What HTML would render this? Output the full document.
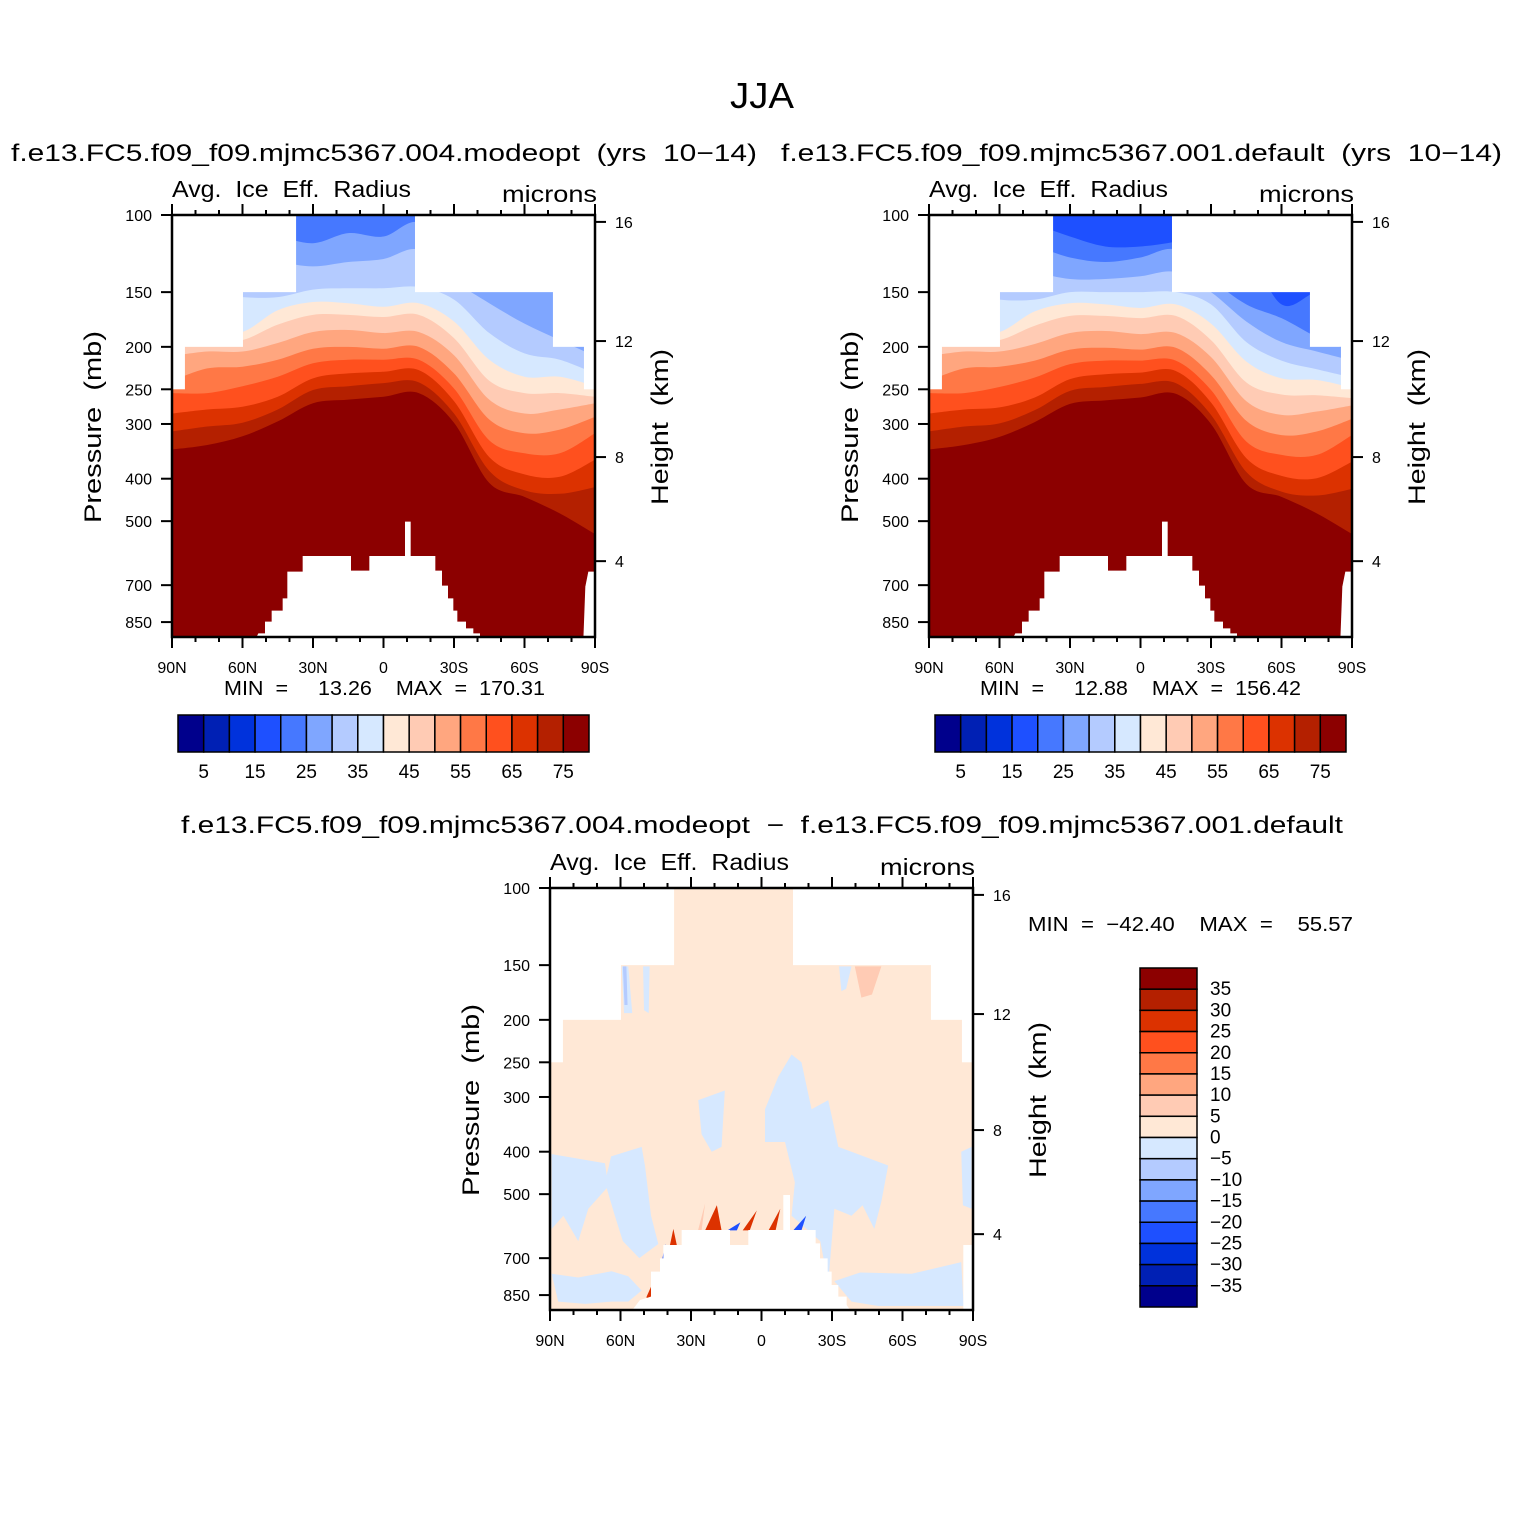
<!DOCTYPE html>
<html><head><meta charset="utf-8"><style>
html,body{margin:0;padding:0;background:#fff}
svg{display:block}
text{font-family:"Liberation Sans",sans-serif;fill:#000;white-space:pre}
</style></head><body>
<svg id="fig" width="1524" height="1524" viewBox="0 0 1524 1524" xmlns="http://www.w3.org/2000/svg">
<rect width="1524" height="1524" fill="#fff"/>
<text x="730" y="108" font-size="36" textLength="64" lengthAdjust="spacingAndGlyphs">JJA</text>
<text x="11" y="161" font-size="24" textLength="746" lengthAdjust="spacingAndGlyphs">f.e13.FC5.f09_f09.mjmc5367.004.modeopt  (yrs  10−14)</text>
<text x="781" y="161" font-size="24" textLength="721" lengthAdjust="spacingAndGlyphs">f.e13.FC5.f09_f09.mjmc5367.001.default  (yrs  10−14)</text>
<text x="181" y="833" font-size="24" textLength="1162" lengthAdjust="spacingAndGlyphs">f.e13.FC5.f09_f09.mjmc5367.004.modeopt  −  f.e13.FC5.f09_f09.mjmc5367.001.default</text>
</svg>
<script>
const palette = ["#00008c","#0020b4","#0032dc","#1e50ff","#4678ff","#7fa6ff","#b4cbff","#d6e8ff","#ffe8d6","#ffcbb4","#ffa67f","#ff7846","#ff501e","#dc3200","#b42000","#8c0000"];
const lats = [90,75,60,45,30,15,0,-15,-30,-45,-60,-75,-90];
const levels = [20,25,30,35,40,45,50,55,60,65,70,75];
// panel 1 boundary pressures (hPa) per level
const p1L20 = [98,98,98,98,98,98,98,98,98,98,98,98,98];
const p1L25 = [110,110,110,112,116,110,112,104,127,135,145,150,170];
const p1L30 = [125,125,126,128,131,128,126,120,141,159,177,193,210];
const p1L35 = [150,150,154,154,148,147,147,146,156,186,207,214,230];
const p1L40 = [180,186,185,165,158,159,162,159,175,214,234,234,246];
const p1L45 = [195,195,193,178,169,169,171,169,191,239,255,255,260];
const p1L50 = [210,205,205,196,185,183,186,185,209,264,284,278,269];
const p1L55 = [239,224,222,214,202,200,202,200,230,293,315,309,289];
const p1L60 = [255,255,246,234,218,214,214,214,249,327,350,350,315];
const p1L65 = [284,278,274,260,236,230,228,226,266,357,391,396,362];
const p1L70 = [312,304,298,278,251,246,242,241,284,384,425,433,418];
const p1L75 = [343,335,320,296,269,264,260,255,298,409,440,480,535];
// panel 2
const p2L20 = [100,100,100,105,112,118,118,115,110,120,160,150,150];
const p2L25 = [115,115,115,118,125,128,125,120,140,160,172,190,205];
const p2L30 = [128,128,130,135,140,140,138,135,150,175,195,205,215];
const p2L35 = [150,150,156,156,150,150,150,150,160,195,215,225,235];
const p2L40 = [180,186,185,166,159,160,163,160,177,216,236,238,248];
const p2L45 = [195,195,193,179,170,170,172,170,193,241,257,258,262];
const p2L50 = [210,205,205,197,186,184,187,186,211,266,286,281,272];
const p2L55 = [239,224,222,215,203,201,203,201,232,295,318,312,292];
const p2L60 = [255,255,247,235,219,215,215,215,251,329,353,353,318];
const p2L65 = [284,278,275,261,237,231,229,227,268,359,394,399,366];
const p2L70 = [312,304,299,279,252,247,243,242,286,386,428,437,422];
const p2L75 = [343,335,321,297,270,265,261,256,300,411,440,480,535];
// difference panel patches: level index, lats, pressures
const diffPatchColor = [7,7,7,7,7,7,7,7,6,7,7,9,9,13,13,13,13,3,3,3,13];
const diffPatchLat = [
 [89.3,66.6,65.2,73.7,78,84.3,89.3],
 [64,51,49.6,47,43.9,52,59,62.4,66.6],
 [89.3,78,63.8,56.7,51,56.7,63.8,75,86.5],
 [26.9,15.6,17,21.2,25.5],
 [-1.5,-7.1,-12.8,-17,-21.3,-28.4,-32.7,-38.3,-53.9,-51,-48,-43,-38.3,-31,-28.4,-25,-12.8,-14.2,-10,-1.5],
 [-31,-42,-63.9,-85,-86,-71,-49.7,-38.3],
 [-85,-89.4,-89.4,-85.7],
 [59.5,56.7,55,58.5],
 [59,57.5,57,58.3],
 [50.4,47.6,48,50],
 [-33,-38.3,-36,-34],
 [-39.7,-51,-47,-42.5],
 [27,24,25.5],
 [24,19,17,22],
 [-3,-8,-6],
 [39,37.5,36,38],
 [8,2,5],
 [14.5,9,10.5],
 [-13.5,-19,-17],
 [43,41,40,43],
 [49,45.5,47.5]
];
const diffPatchP = [
 [405,425,480,540,640,560,600],
 [410,390,430,560,650,700,640,560,470],
 [760,775,750,770,830,880,880,890,880],
 [305,290,390,400,365],
 [320,270,240,250,320,305,390,400,430,520,600,530,560,540,800,640,560,470,380,380],
 [790,755,760,715,900,900,900,880],
 [400,390,540,530],
 [151,151,193,193],
 [151,151,185,185],
 [151,151,193,190],
 [151,151,170,172],
 [151,151,175,178],
 [605,525,605],
 [605,530,605,605],
 [605,540,605],
 [655,600,655,655],
 [605,545,605],
 [605,580,605],
 [605,560,605],
 [740,650,700,760],
 [860,780,880]
];
const presTicks = [100,150,200,250,300,400,500,700,850];
const kmTickP = [103.7,194,357,617];
const kmTickLabels = ["16","12","8","4"];
const latTicks = [90,60,30,0,-30,-60,-90];
const latTickLabels = ["90N","60N","30N","0","30S","60S","90S"];
const cbLabels1 = ["5","15","25","35","45","55","65","75"];
const diffCbLabels = ["35","30","25","20","15","10","5","0","−5","−10","−15","−20","−25","−30","−35"];

const svg = document.getElementById('fig');
const NS = "http://www.w3.org/2000/svg";
const W = 423, H = 422, DEC = 438;
function mk(tag, attrs, parent){const e=document.createElementNS(NS,tag);for(const k in attrs)e.setAttribute(k,attrs[k]);(parent||svg).appendChild(e);return e;}
function xs(ox,lat){return ox+(90-lat)/180*W;}
function ys(oy,p){return oy+(Math.log10(p)-2)*DEC;}
function smoothPath(pts){
  let d="M"+pts[0][0]+","+pts[0][1];
  for(let i=0;i<pts.length-1;i++){
    const p0=pts[Math.max(0,i-1)],p1=pts[i],p2=pts[i+1],p3=pts[Math.min(pts.length-1,i+2)];
    const c1=[p1[0]+(p2[0]-p0[0])/6,p1[1]+(p2[1]-p0[1])/6];
    const c2=[p2[0]-(p3[0]-p1[0])/6,p2[1]-(p3[1]-p1[1])/6];
    d+=" C"+c1[0]+","+c1[1]+" "+c2[0]+","+c2[1]+" "+p2[0]+","+p2[1];
  }
  return d;
}
function topMask(g,ox,oy){
  const spans=[[100,150,37.2,-13.4],[150,200,59.8,-72.1],[200,250,84.5,-85.3]];
  spans.forEach(s=>{
    const y0=ys(oy,s[0])-1,y1=ys(oy,s[1]);
    let r=mk('rect',{x:ox,y:y0,width:xs(ox,s[2])-ox,height:y1-y0,fill:'#fff'},g);
    
    
    r=mk('rect',{x:xs(ox,s[3]),y:y0,width:ox+W-xs(ox,s[3]),height:y1-y0,fill:'#fff'},g);
    
    
  });
}
function polyMask(g,pts,fx,fy,ox,oy){
  const s=pts.map(p=>(ox+p[0]/3+fx)+","+(oy+p[1]/3+fy)).join(" ");
  const e=mk('polygon',{points:s,fill:'#fff'},g);
  
  
}
const mask1=[[285,1320],[295,1300],[315,1300],[315,1265],[335,1265],[335,1232],[368,1232],[368,1195],[382,1195],[382,1115],[428,1115],[428,1068],[573,1068],[573,1112],[628,1112],[628,1068],[735,1068],[735,965],[752,965],[752,1068],[826,1068],[826,1112],[846,1112],[846,1157],[864,1157],[864,1195],[880,1195],[880,1232],[892,1232],[892,1265],[918,1265],[918,1285],[940,1285],[940,1300],[960,1300],[960,1320]];
const mask1b=[[1270,1320],[1276,1160],[1285,1115],[1305,1115],[1305,1320]];
const mask2=[[262,1300],[262,1290],[285,1260],[318,1250],[318,1175],[345,1175],[345,1135],[355,1135],[355,1095],[410,1095],[410,1050],[555,1050],[555,1095],[610,1095],[610,1050],[715,1050],[715,945],[735,945],[735,1050],[812,1050],[812,1090],[825,1090],[825,1135],[848,1135],[848,1175],[860,1175],[860,1215],[880,1215],[880,1250],[905,1250],[905,1275],[915,1290],[915,1300]];
const mask2b=[[1255,1300],[1255,1095],[1285,1095],[1285,1300]];

function axes(ox,oy,title,units){
  const g=mk('g',{});
  
  
  mk('rect',{x:ox,y:oy,width:W,height:H,fill:'none',stroke:'#000','stroke-width':2.5},g);
  for(let lat=90;lat>=-90;lat-=10){
    const major=lat%30===0, x=xs(ox,lat), L=major?11:5;
    mk('line',{x1:x,y1:oy,x2:x,y2:oy-L,stroke:'#000','stroke-width':2},g);
    mk('line',{x1:x,y1:oy+H,x2:x,y2:oy+H+L,stroke:'#000','stroke-width':2},g);
  }
  latTicks.forEach((lat,i)=>{
    const t=mk('text',{x:xs(ox,lat),y:oy+H+36,'font-size':16,'text-anchor':'middle'},g);
    t.textContent=latTickLabels[i];
    
    
  });
  presTicks.forEach(p=>{
    const y=ys(oy,p);
    mk('line',{x1:ox,y1:y,x2:ox-11,y2:y,stroke:'#000','stroke-width':2},g);
    const t=mk('text',{x:ox-20,y:y+6,'font-size':16,'text-anchor':'end'},g);
    t.textContent=p;
    
    
  });
  kmTickP.forEach((p,i)=>{
    const y=ys(oy,p);
    mk('line',{x1:ox+W,y1:y,x2:ox+W+11,y2:y,stroke:'#000','stroke-width':2},g);
    const t=mk('text',{x:ox+W+20,y:y+6,'font-size':16},g);
    t.textContent=kmTickLabels[i];
    
    
  });
  let t=mk('text',{x:ox,y:oy-18,'font-size':23,textLength:239,lengthAdjust:'spacingAndGlyphs'},g);t.textContent="Avg.  Ice  Eff.  Radius";
  
  
  t=mk('text',{x:ox+W-93,y:oy-13,'font-size':23,textLength:95,lengthAdjust:'spacingAndGlyphs'},g);t.textContent=units;
  
  
  t=mk('text',{x:0,y:0,'font-size':24,'text-anchor':'middle',textLength:192,lengthAdjust:'spacingAndGlyphs',transform:`translate(${ox-71},${oy+212}) rotate(-90)`},g);
  t.textContent="Pressure  (mb)";
  
  
  t=mk('text',{x:0,y:0,'font-size':24,'text-anchor':'middle',textLength:156,lengthAdjust:'spacingAndGlyphs',transform:`translate(${ox+W+73},${oy+212}) rotate(-90)`},g);
  t.textContent="Height  (km)";
  
  
}

let clipId=0;
function fieldPanel(ox,oy,bounds,name){
  clipId++;
  const cp=mk('clipPath',{id:'c'+clipId});
  mk('rect',{x:ox,y:oy,width:W,height:H},cp);
  const g=mk('g',{'clip-path':`url(#c${clipId})`});
  
  
  mk('rect',{x:ox,y:oy,width:W,height:H,fill:palette[3]},g);
  bounds.forEach((arr,k)=>{
    const pts=lats.map((lat,i)=>[xs(ox,lat),ys(oy,arr[i])]);
    const d=smoothPath(pts)+` L${ox+W+5},${pts[pts.length-1][1]} L${ox+W+5},${oy+H+5} L${ox-5},${oy+H+5} L${ox-5},${pts[0][1]} Z`;
    const e=mk('path',{d:d,fill:palette[levels[k]/5]},g);
    
    
  });
  return g;
}
function colorbarH(x0,y0,vals){
  const g=mk('g',{});
  
  
  const bw=411/16;
  palette.forEach((c,i)=>{
    const r=mk('rect',{x:x0+i*bw,y:y0,width:bw,height:37,fill:c,stroke:'#000','stroke-width':1.5},g);
    
    
  });
  vals.forEach((v,i)=>{
    const t=mk('text',{x:x0+(1+2*i)*bw,y:y0+63,'font-size':19,'text-anchor':'middle'},g);
    t.textContent=v;
    
    
  });
}
function minmax(x,y,txt,len){
  const t=mk('text',{x:x,y:y,'font-size':20,textLength:len,lengthAdjust:'spacingAndGlyphs'});
  t.textContent=txt;
  
  
}

// Panel 1
let g=fieldPanel(172,215,[p1L20,p1L25,p1L30,p1L35,p1L40,p1L45,p1L50,p1L55,p1L60,p1L65,p1L70,p1L75],'panel1');
topMask(g,172,215);polyMask(g,mask1,-12,-15,172,215);polyMask(g,mask1b,-12,-15,172,215);
axes(172,215,"Avg. Ice Eff. Radius","microns");
minmax(224,695,"MIN  =     13.26    MAX  =  170.31",321);
colorbarH(178,715,cbLabels1);
// Panel 2
g=fieldPanel(929,215,[p2L20,p2L25,p2L30,p2L35,p2L40,p2L45,p2L50,p2L55,p2L60,p2L65,p2L70,p2L75],'panel2');
topMask(g,929,215);polyMask(g,mask1,-12,-15,929,215);polyMask(g,mask1b,-12,-15,929,215);
axes(929,215,"Avg. Ice Eff. Radius","microns");
minmax(980,695,"MIN  =     12.88    MAX  =  156.42",321);
colorbarH(935,715,cbLabels1);
// Panel 3
(function(){
  const ox=550, oy=888;
  clipId++;
  const cp=mk('clipPath',{id:'c'+clipId});
  mk('rect',{x:ox,y:oy,width:W,height:H},cp);
  const g3=mk('g',{'clip-path':`url(#c${clipId})`});
  
  
  mk('rect',{x:ox,y:oy,width:W,height:H,fill:palette[8]},g3);
  diffPatchLat.forEach((la,i)=>{
    const s=la.map((lat,j)=>xs(ox,lat)+","+ys(oy,diffPatchP[i][j])).join(" ");
    const e=mk('polygon',{points:s,fill:palette[diffPatchColor[i]]},g3);
    
    
  });
  topMask(g3,ox,oy);polyMask(g3,mask2,-5,-8,ox,oy);polyMask(g3,mask2b,-5,-8,ox,oy);
  axes(ox,oy,"Avg. Ice Eff. Radius","microns");
  minmax(1028,931,"MIN  =  −42.40    MAX  =    55.57",325);
  const cg=mk('g',{});
  
  
  const bh=339/16;
  for(let i=0;i<16;i++){
    const r=mk('rect',{x:1140,y:968+i*bh,width:57,height:bh,fill:palette[15-i],stroke:'#000','stroke-width':1.5},cg);
    
    
  }
  diffCbLabels.forEach((v,i)=>{
    const t=mk('text',{x:1210,y:968+(i+1)*bh+6,'font-size':19},cg);
    t.textContent=v;
    
    
  });
})();
</script>
</body></html>
